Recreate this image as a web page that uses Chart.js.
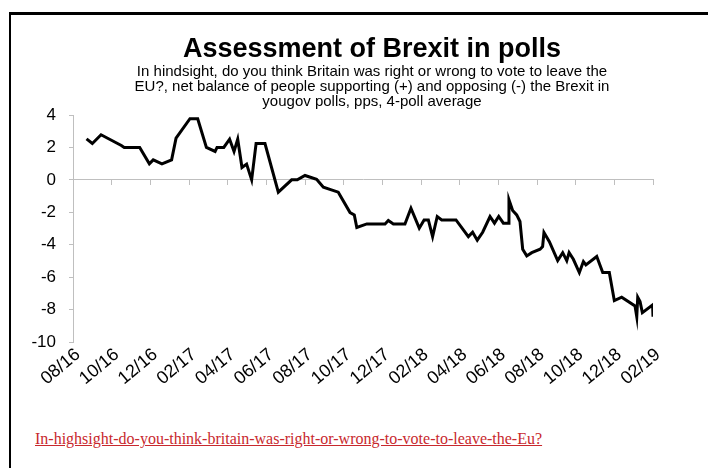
<!DOCTYPE html>
<html>
<head>
<meta charset="utf-8">
<script src="https://cdn.jsdelivr.net/npm/chart.js@4/dist/chart.umd.min.js"></script>
<style>
  html, body { margin: 0; padding: 0; background: #fff; width: 708px; height: 468px; overflow: hidden; position: relative; }
  #frame { position: absolute; left: 9px; top: 12px; width: 720px; height: 480px; border-top: 3px solid #000; border-left: 2px solid #000; }
  #wrap { position: absolute; left: 0; top: 0; width: 744px; height: 400px; }
  #link { position: absolute; left: 35px; top: 430px; font-family: "Liberation Serif", "Times New Roman", serif; font-size: 16px; color: #c8282d; text-decoration: underline; white-space: nowrap; }
</style>
</head>
<body>
<div id="frame"></div>
<div id="wrap"><canvas id="c" width="744" height="400"></canvas></div>
<div id="link">In-highsight-do-you-think-britain-was-right-or-wrong-to-vote-to-leave-the-Eu?</div>
<script>
// Months since 08/2016
const months = [0.7, 1.0, 1.45, 2.5, 2.65, 3.45, 3.95, 4.15, 4.6, 5.1, 5.33, 6.05, 6.45, 6.9, 7.35, 7.45, 7.8, 8.1, 8.33, 8.52,
  8.74, 8.98, 9.24, 9.47, 9.93, 10.62, 11.31, 11.6, 12.0, 12.6, 12.95, 13.72, 14.33, 14.55, 14.68, 15.2, 16.14, 16.31, 16.57, 17.17,
  17.48, 17.91, 18.16, 18.38, 18.6, 18.84, 19.07, 19.81, 20.45, 20.67, 20.91, 21.19, 21.57, 21.8, 22.02, 22.26, 22.52, 22.55, 22.74, 22.95,
  23.12, 23.26, 23.47, 23.73, 24.16, 24.29, 24.36, 24.64, 25.07, 25.33, 25.54, 25.66, 25.88, 26.19, 26.4, 26.53, 27.09, 27.4, 27.74, 28.0,
  28.38, 29.07, 29.16, 29.21, 29.33, 29.45, 29.98, 30.0];
const netBalance = [2.53, 2.24, 2.78, 2.12, 2.0, 2.0, 0.99, 1.23, 0.99, 1.23, 2.57, 3.77, 3.77, 2.0, 1.75, 2.0, 2.0, 2.51, 1.75, 2.51,
  0.76, 0.97, 0.0, 2.24, 2.24, -0.76, 0.0, 0.0, 0.27, 0.04, -0.45, -0.76, -2.02, -2.16, -2.94, -2.72, -2.72, -2.51, -2.72, -2.72,
  -1.75, -2.98, -2.47, -2.47, -3.5, -2.26, -2.47, -2.47, -3.5, -3.23, -3.72, -3.23, -2.26, -2.67, -2.26, -2.67, -2.67, -1.23, -1.89, -2.16,
  -2.57, -4.28, -4.69, -4.49, -4.28, -4.12, -3.25, -3.81, -4.98, -4.49, -4.98, -4.49, -4.9, -5.72, -5.04, -5.25, -4.73, -5.72, -5.72, -7.45,
  -7.24, -7.78, -8.44, -7.24, -7.51, -8.19, -7.72, -8.44];
const tickLabels = ['08/16', '10/16', '12/16', '02/17', '04/17', '06/17', '08/17', '10/17', '12/17', '02/18', '04/18', '06/18', '08/18', '10/18', '12/18', '02/19'];
const titleText = 'Assessment of Brexit in polls';
const subtitleLines = [
  'In hindsight, do you think Britain was right or wrong to vote to leave the',
  'EU?, net balance of people supporting (+) and opposing (-) the Brexit in',
  'yougov polls, pps, 4-poll average'
];

const FONT = '"Liberation Sans", Arial, sans-serif';
const AXIS_GREY = '#bfbfbf';
const points = months.map((m, i) => ({ x: m, y: netBalance[i] }));

new Chart(document.getElementById('c'), {
  type: 'line',
  data: {
    datasets: [{
      data: points,
      xAxisID: 'x',
      yAxisID: 'y',
      borderColor: '#000',
      borderWidth: 3,
      pointRadius: 0,
      tension: 0,
      fill: false
    }]
  },
  options: {
    responsive: false,
    animation: false,
    layout: { padding: { left: 0, right: 0, top: 0, bottom: 0 } },
    plugins: {
      legend: { display: false },
      tooltip: { enabled: false },
      title: {
        display: true,
        text: titleText,
        color: '#000',
        font: { family: FONT, size: 27, weight: 'bold', lineHeight: 1.0 },
        padding: { top: 36, bottom: 0 }
      },
      subtitle: {
        display: true,
        text: subtitleLines,
        color: '#000',
        font: { family: FONT, size: 15, lineHeight: 1.0 },
        padding: { top: 1, bottom: 6 }
      }
    },
    scales: {
      x: {
        type: 'linear',
        position: { y: 0 },
        min: 0, max: 30,
        ticks: { display: false, stepSize: 2 },
        grid: { drawOnChartArea: false, drawTicks: true, tickLength: 5, color: AXIS_GREY },
        border: { display: true, color: AXIS_GREY, width: 1 }
      },
      x2: {
        type: 'linear',
        position: 'bottom',
        min: 0, max: 30,
        ticks: {
          stepSize: 2,
          autoSkip: false,
          minRotation: 40, maxRotation: 40,
          labelOffset: 5,
          padding: 2,
          color: '#000',
          font: { family: FONT, size: 18 },
          callback: (v) => tickLabels[Math.round(v / 2)] ?? ''
        },
        grid: { display: false, drawTicks: false },
        border: { display: false },
        afterFit: (s) => { s.height = 400 - 342; }
      },
      y: {
        type: 'linear',
        position: 'left',
        min: -10, max: 4,
        ticks: { stepSize: 2, color: '#000', padding: 13, font: { family: FONT, size: 17 } },
        grid: { drawOnChartArea: false, drawTicks: true, tickLength: 4, color: AXIS_GREY },
        border: { display: true, color: AXIS_GREY, width: 1 },
        afterFit: (s) => { s.width = 73; }
      },
      y2: {
        type: 'linear',
        position: 'right',
        min: -10, max: 4,
        ticks: { display: false },
        grid: { display: false, drawTicks: false },
        border: { display: false },
        afterFit: (s) => { s.width = 744 - 653; }
      }
    }
  }
});
</script>
</body>
</html>
